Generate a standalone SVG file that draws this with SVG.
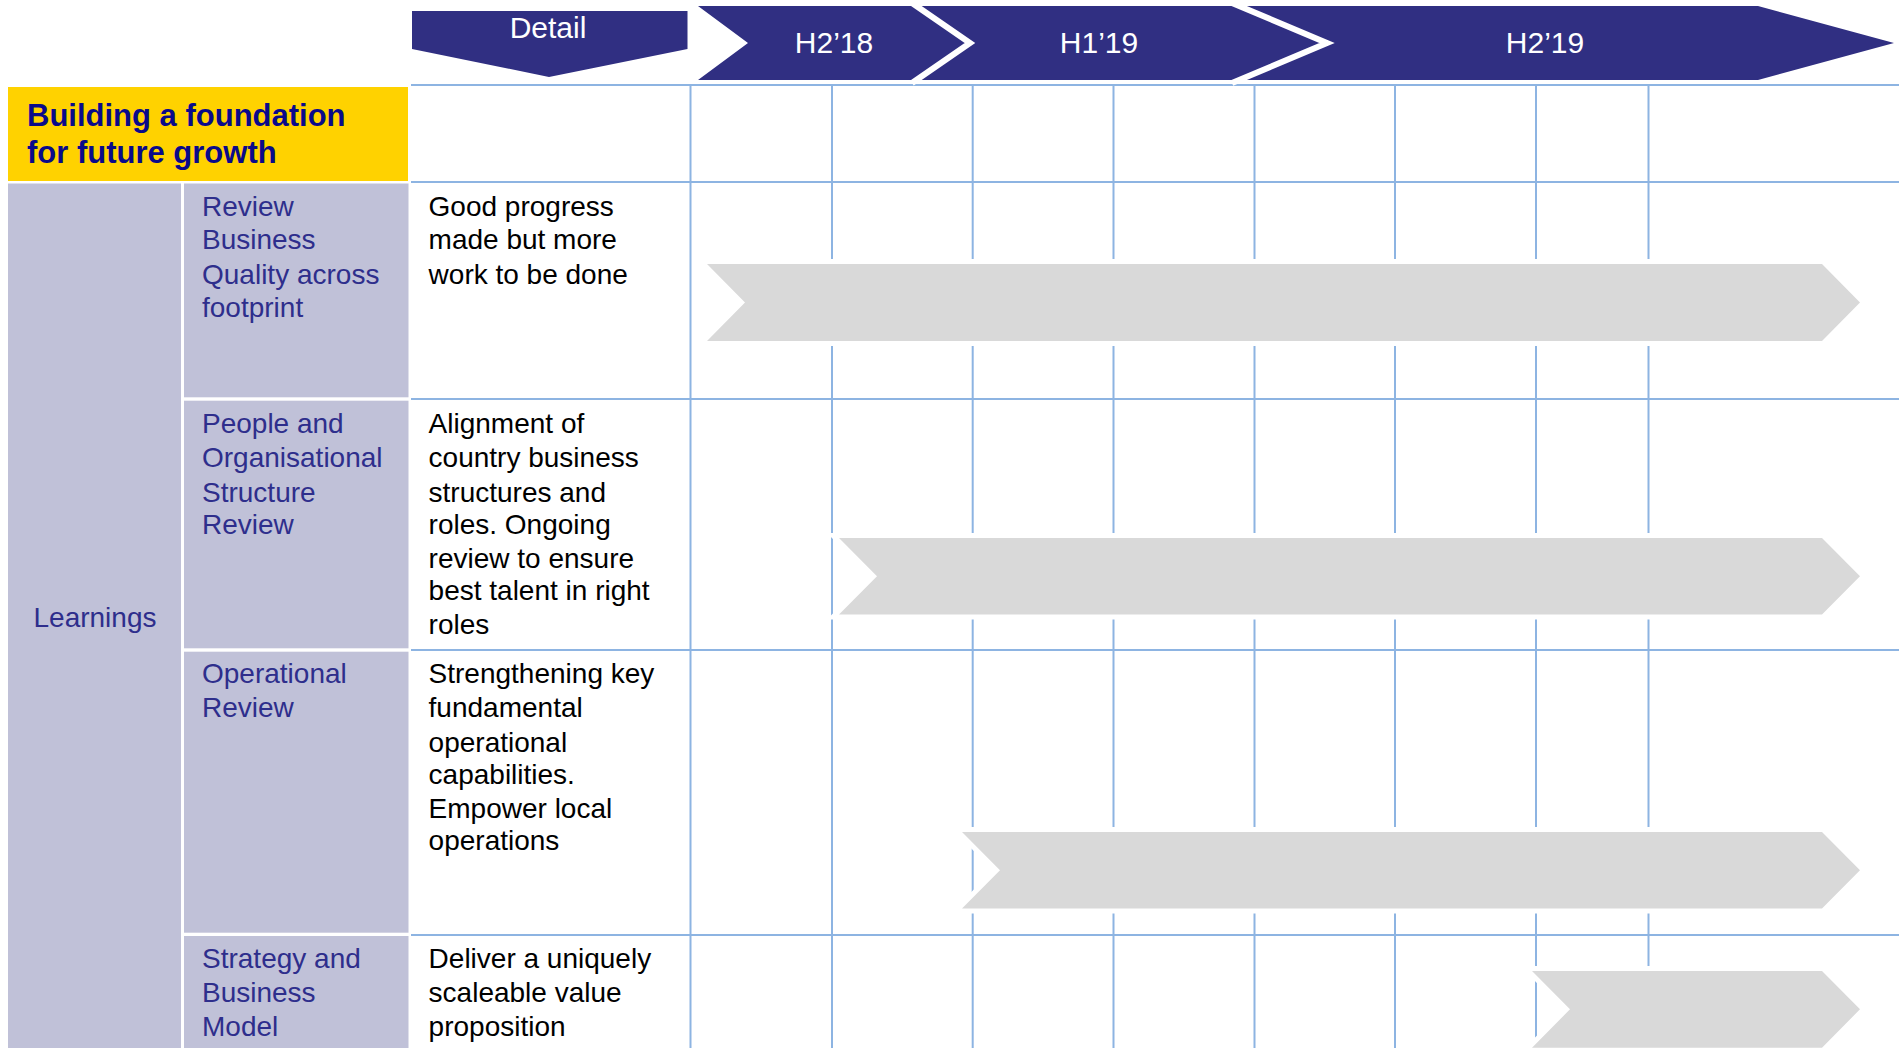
<svg xmlns="http://www.w3.org/2000/svg" width="1899" height="1048" viewBox="0 0 1899 1048">
  <style>
    .navy { fill: #302F82; }
    .hdr { font-family: "Liberation Sans", Arial, sans-serif; font-size: 30px; fill: #FFFFFF; text-anchor: middle; }
    .title { font-family: "Liberation Sans", Arial, sans-serif; font-size: 31px; font-weight: bold; fill: #0A0A8A; }
    .cat { fill: #C0C1D8; }
    .lbl { font-family: "Liberation Sans", Arial, sans-serif; font-size: 28px; fill: #2E2E8C; }
    .desc { font-family: "Liberation Sans", Arial, sans-serif; font-size: 28px; fill: #000000; }
    .grid line { stroke: #8DB4E2; stroke-width: 2; }
    .bar { fill: #D9D9D9; stroke: #FFFFFF; stroke-width: 10; stroke-linejoin: miter; paint-order: stroke; }
  </style>

  <rect width="1899" height="1048" fill="#FFFFFF"/>

  <!-- table grid -->
  <g id="grid" class="grid">
    <line x1="411" y1="85" x2="1899" y2="85"/>
    <line x1="411" y1="182" x2="1899" y2="182"/>
    <line x1="411" y1="399" x2="1899" y2="399"/>
    <line x1="411" y1="650" x2="1899" y2="650"/>
    <line x1="411" y1="935" x2="1899" y2="935"/>
    <line x1="690.5" y1="85" x2="690.5" y2="1048"/>
    <line x1="832" y1="85" x2="832" y2="1048"/>
    <line x1="972.7" y1="85" x2="972.7" y2="1048"/>
    <line x1="1113.5" y1="85" x2="1113.5" y2="1048"/>
    <line x1="1254.5" y1="85" x2="1254.5" y2="1048"/>
    <line x1="1395" y1="85" x2="1395" y2="1048"/>
    <line x1="1536" y1="85" x2="1536" y2="1048"/>
    <line x1="1648.5" y1="85" x2="1648.5" y2="1048"/>
  </g>

  <!-- column header -->
  <g id="detail-header">
    <polygon class="navy" points="412,11 687.5,11 687.5,49 549,77 412,49"/>
    <text class="hdr" x="548" y="38">Detail</text>
  </g>

  <!-- timeline header -->
  <g id="period-h2-18">
    <polygon class="navy" points="698,6 914,6 970,43 914,80 698,80 748,43"/>
    <text class="hdr" x="834" y="53">H2’18</text>
  </g>
  <g id="period-h1-19">
    <polygon class="navy" points="914,6 1234,6 1327,43 1234,80 914,80 970,43"/>
    <text class="hdr" x="1099" y="53">H1’19</text>
  </g>
  <g id="period-h2-19">
    <polygon class="navy" points="1234,6 1758,6 1894,43 1758,80 1234,80 1327,43"/>
    <text class="hdr" x="1545" y="53">H2’19</text>
  </g>
  <g id="period-separators" fill="none" stroke="#FFFFFF" stroke-width="6" stroke-linejoin="miter">
    <polyline points="912,3 970,43 912,83"/>
    <polyline points="1232,3 1327,43 1232,83"/>
  </g>

  <!-- title -->
  <g id="title">
    <rect x="8" y="87" width="400" height="94" fill="#FFD200"/>
    <text class="title" x="27" y="126">Building a foundation</text>
    <text class="title" x="27" y="163">for future growth</text>
  </g>

  <!-- category column -->
  <g id="learnings">
    <rect class="cat" x="8" y="183.5" width="173" height="864.5"/>
    <text class="lbl" x="33.5" y="626.5">Learnings</text>
  </g>

  <!-- workstreams -->
  <g id="review-business-quality">
    <rect class="cat" x="184" y="183.5" width="224.5" height="213.8"/>
    <text class="lbl" x="202" y="215.7">Review</text>
    <text class="lbl" x="202" y="249">Business</text>
    <text class="lbl" x="202" y="284">Quality across</text>
    <text class="lbl" x="202" y="316.7">footprint</text>
    <text class="desc" x="428.6" y="215.7">Good progress</text>
    <text class="desc" x="428.6" y="249">made but more</text>
    <text class="desc" x="428.6" y="284">work to be done</text>
  </g>

  <g id="people-organisation">
    <rect class="cat" x="184" y="400.7" width="224.5" height="247.6"/>
    <text class="lbl" x="202" y="433.3">People and</text>
    <text class="lbl" x="202" y="467.3">Organisational</text>
    <text class="lbl" x="202" y="502">Structure</text>
    <text class="lbl" x="202" y="534">Review</text>
    <text class="desc" x="428.6" y="433.3">Alignment of</text>
    <text class="desc" x="428.6" y="467.3">country business</text>
    <text class="desc" x="428.6" y="501.7">structures and</text>
    <text class="desc" x="428.6" y="534">roles. Ongoing</text>
    <text class="desc" x="428.6" y="568.3">review to ensure</text>
    <text class="desc" x="428.6" y="600">best talent in right</text>
    <text class="desc" x="428.6" y="634">roles</text>
  </g>

  <g id="operational-review">
    <rect class="cat" x="184" y="651.7" width="224.5" height="281"/>
    <text class="lbl" x="202" y="683.3">Operational</text>
    <text class="lbl" x="202" y="716.7">Review</text>
    <text class="desc" x="428.6" y="683.3">Strengthening key</text>
    <text class="desc" x="428.6" y="716.7">fundamental</text>
    <text class="desc" x="428.6" y="751.7">operational</text>
    <text class="desc" x="428.6" y="784.3">capabilities.</text>
    <text class="desc" x="428.6" y="818.3">Empower local</text>
    <text class="desc" x="428.6" y="850">operations</text>
  </g>

  <g id="strategy-business-model">
    <rect class="cat" x="184" y="936" width="224.5" height="112"/>
    <text class="lbl" x="202" y="968.3">Strategy and</text>
    <text class="lbl" x="202" y="1001.7">Business</text>
    <text class="lbl" x="202" y="1036">Model</text>
    <text class="desc" x="428.6" y="968.3">Deliver a uniquely</text>
    <text class="desc" x="428.6" y="1001.7">scaleable value</text>
    <text class="desc" x="428.6" y="1036">proposition</text>
  </g>

  <!-- timeline bars -->
  <g id="bars">
    <polygon class="bar" points="707,264 1822,264 1860,302.5 1822,341 707,341 745,302.5"/>
    <polygon class="bar" points="839,538 1822,538 1860,576.2 1822,614.5 839,614.5 877,576.2"/>
    <polygon class="bar" points="962,832 1822,832 1860,870.2 1822,908.5 962,908.5 1000,870.2"/>
    <polygon class="bar" points="1532,971 1822,971 1860,1009.3 1822,1047.7 1532,1047.7 1570,1009.3"/>
  </g>
</svg>
